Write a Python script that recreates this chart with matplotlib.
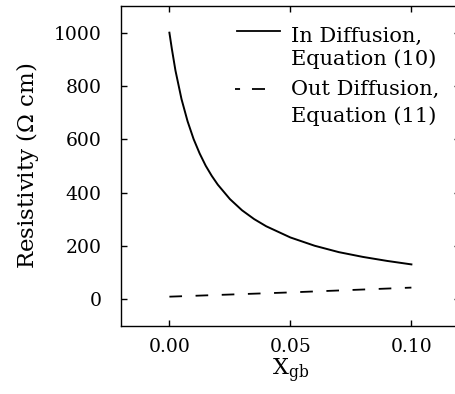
import numpy as np
import matplotlib
matplotlib.use('Agg')
import matplotlib.pyplot as plt

# Values
x_gb = [0.0, 0.001, 0.0025, 0.005, 0.0075, 0.01, 0.0125, 0.015, 0.0175, 0.02,
        0.025, 0.03, 0.035, 0.04, 0.05, 0.06, 0.07, 0.08, 0.09, 0.10]
rho_in = [1000, 940, 858, 751, 668, 601, 547, 501, 463, 430,
          376, 334, 301, 274, 232, 201, 177, 159, 144, 131]
x_out = [0.0, 0.025, 0.05, 0.075, 0.10]
rho_out = [10, 18, 26, 35, 44]

xticks = [0.00, 0.05, 0.10]
yticks = [0, 200, 400, 600, 800, 1000]

font = 'DejaVu Serif'
plt.rcParams['font.family'] = font
plt.rcParams['mathtext.fontset'] = 'dejavuserif'

W, H = 456, 394
fig = plt.figure(figsize=(W / 100, H / 100), dpi=100)
ax = fig.add_axes([121 / W, 68 / H, 338.8 / W, 320 / H])

dash = (0, (7, 7.5))
ax.plot(x_gb, rho_in, color='black', lw=1.4)
ax.plot(x_out, rho_out, color='black', lw=1.3, linestyle=dash)

ax.set_xlim(-0.02, 0.12)
ax.set_ylim(-100, 1100)
ax.set_xticks(xticks)
ax.set_xticklabels([f'{v:.2f}' for v in xticks])
ax.set_yticks(yticks)

ax.tick_params(direction='in', length=4.5, width=1.0, top=True, right=True,
               labelsize=13.5, color='black')
ax.tick_params(axis='y', pad=14)
ax.tick_params(axis='x', pad=9)
for sp in ax.spines.values():
    sp.set_linewidth(1.0)

ax.set_xlabel(r'X$_{\mathrm{gb}}$', fontsize=16, labelpad=0)
ax.set_ylabel(r'Resistivity ($\Omega$ cm)', fontsize=16.5, labelpad=9)

# hand-made legend with handle next to the first line of each label
def ay(py):
    return (326 - py) / 320

def axx(px):
    return (px - 121) / 338.8

tx = axx(291)
ax.plot([axx(237), axx(280)], [ay(31), ay(31)], transform=ax.transAxes,
        color='black', lw=1.3, clip_on=False)
ax.plot([axx(235), axx(265)], [ay(89), ay(89)], transform=ax.transAxes,
        color='black', lw=1.3, linestyle=(0, (2.8, 6.6, 7.5, 0)), clip_on=False)
for py, s in [(42, 'In Diffusion,'), (65, 'Equation (10)'),
              (95, 'Out Diffusion,'), (122, 'Equation (11)')]:
    ax.text(tx, ay(py), s, transform=ax.transAxes, fontsize=15,
            va='baseline', ha='left')

fig.savefig('out.png', dpi=100)
